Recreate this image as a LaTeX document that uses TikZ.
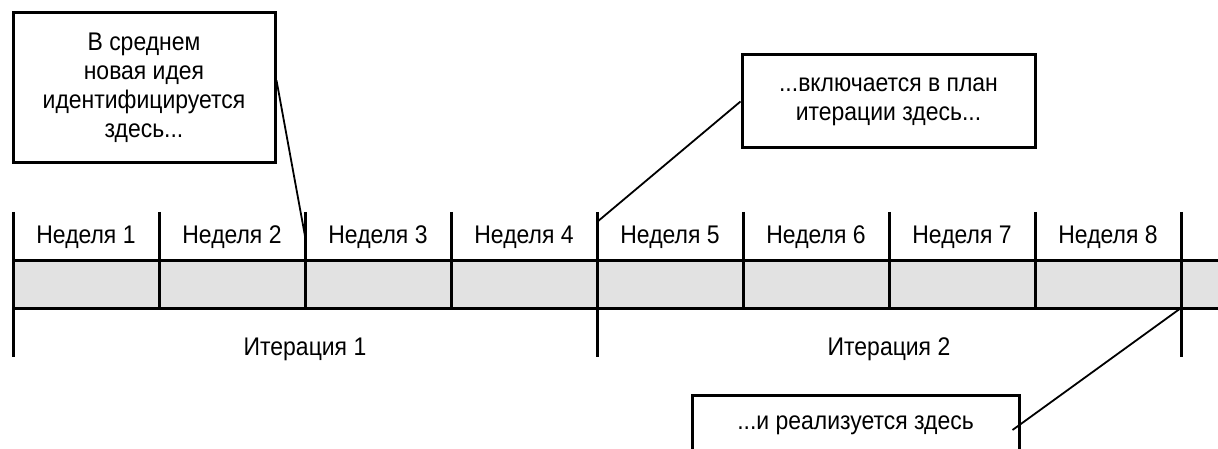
\documentclass[tikz,border=0pt]{standalone}
\usepackage{fontspec}
\setmainfont{Liberation Sans}[FakeStretch=0.9]
\usetikzlibrary{calc}
\definecolor{barfill}{HTML}{E2E2E2}
\tikzset{
  lbl/.style={font=\fontsize{25.5}{29}\selectfont, inner sep=0pt, align=center},
  callout/.style={draw=black, line width=3pt, fill=white, inner sep=0pt, font=\fontsize{25.5}{29}\selectfont, align=center},
  rule/.style={line width=3pt},
  pointer/.style={line width=1.8pt},
}
\begin{document}
\begin{tikzpicture}[x=1pt,y=-1pt]
\useasboundingbox (0,0) rectangle (1218,449);
\clip (0,0) rectangle (1218,449);
% bar
\fill[barfill] (13,260) rectangle (1218,308);
\draw[rule] (13,260) -- (1218,260);
\draw[rule] (13,308) -- (1218,308);
% dividers
\foreach \i in {1,2,3,5,6,7} {
  \draw[rule] ({13+146*\i},212) -- ({13+146*\i},308);
}
\foreach \i in {0,4,8} {
  \draw[rule] ({13+146*\i},212) -- ({13+146*\i},357);
}
\coordinate (d2) at (305,236);
\coordinate (d4) at (597,222);
\coordinate (d8) at (1181,308);
% week labels
\foreach \i in {1,...,8} {
  \node[lbl] (w\i) at ({13+146*\i-73},237) {Неделя \i};
}
\node[lbl] (it1) at (305,349) {Итерация 1};
\node[lbl] (it2) at (889,349) {Итерация 2};
% callouts
\node[callout, minimum width=262pt, minimum height=150pt] (b1) at (144,88)
  {В среднем\\новая идея\\идентифицируется\\здесь...};
\node[callout, minimum width=293pt, minimum height=93pt] (b2) at (888.5,101.5)
  {...включается в план\\итерации здесь...};
\node[callout, minimum width=327pt, minimum height=60pt] (b3) at (855.5,425)
  {...и реализуется здесь};
\draw[pointer] ($(b1.north east)!0.45!(b1.south east)$) -- (d2);
\draw[pointer] (b2.west) -- (d4);
\draw[pointer] ($(b3.east)+(-8,5)$) -- (d8);
\end{tikzpicture}
\end{document}
